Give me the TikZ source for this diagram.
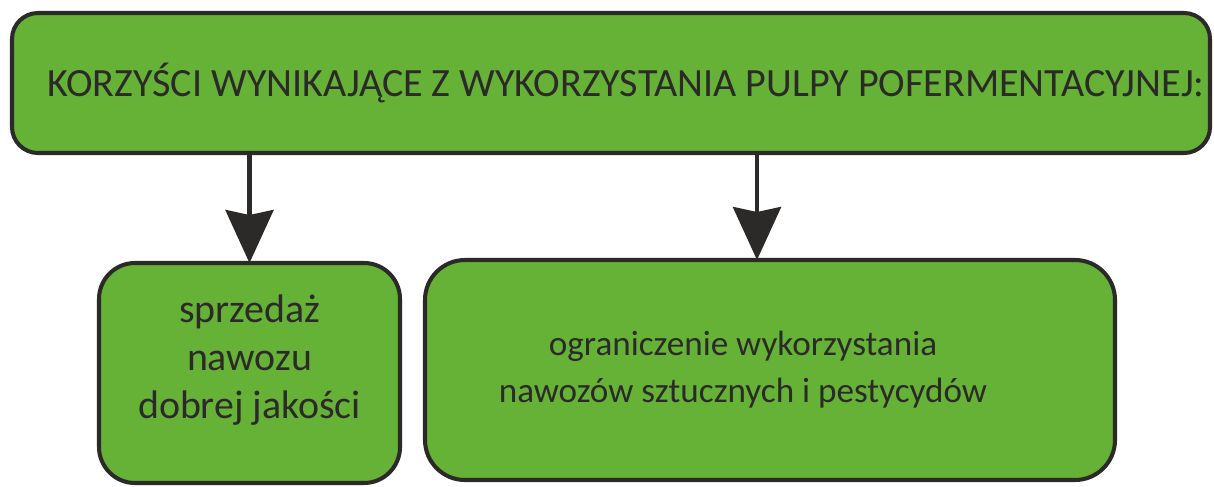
\documentclass[tikz,border=0pt]{standalone}
\usepackage{fontspec}
\setmainfont{Carlito}
\usetikzlibrary{arrows.meta,positioning}
\definecolor{pulpgreen}{HTML}{66B236}
\definecolor{inkgray}{HTML}{2B2A29}
\tikzset{
  headbox/.style = {rectangle, draw=inkgray, line width=2.3pt, fill=pulpgreen, rounded corners=0.52cm,
    minimum width=23.96cm, minimum height=2.8cm, text=inkgray, font=\fontsize{22.8}{28}\selectfont,
    inner sep=0pt, outer sep=0pt},
  gainbox/.style = {rectangle, draw=inkgray, line width=2.3pt, fill=pulpgreen, rounded corners=0.72cm,
    minimum height=4.4cm, text=inkgray, align=center, inner sep=0pt, outer sep=0pt},
  arrow/.style = {draw=inkgray, line width=2.3pt, -{Stealth[length=1.06cm, width=0.96cm, inset=0.1cm]}}
}
\begin{document}
\begin{tikzpicture}
\useasboundingbox (0,0) rectangle (24.28,-9.72);

\node[headbox] (benefits) at (12.22,-1.66)
  {\hspace*{0.6cm}KORZYŚCI WYNIKAJĄCE Z WYKORZYSTANIA PULPY POFERMENTACYJNEJ:};

\node[gainbox, minimum width=6.02cm, font=\fontsize{22.7}{27.3}\selectfont, text depth=0.64cm,
  below right=2.2cm and 1.74cm of benefits.south west]
  (sale) {sprzedaż\\ nawozu\\ dobrej jakości};
\node[gainbox, minimum width=13.8cm, rounded corners=0.8cm, font=\fontsize{20}{26.7}\selectfont,
  below right=2.14cm and 8.26cm of benefits.south west]
  (limit) {ograniczenie wykorzystania\hspace*{1.08cm}\\ nawozów sztucznych i pestycydów\hspace*{1.08cm}};

\draw[arrow] (benefits.south -| sale.north) -- (sale.north);
\path (limit.north) ++(-0.26,0) coordinate (limitin);
\draw[arrow] (benefits.south -| limitin) -- (limitin);

\end{tikzpicture}
\end{document}
